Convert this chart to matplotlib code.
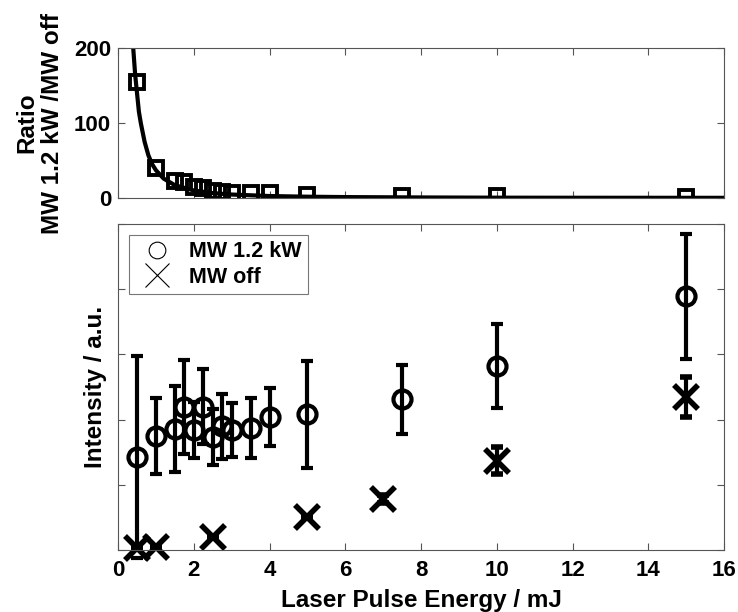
import matplotlib.pyplot as plt
from matplotlib.lines import Line2D

plt.rcParams["font.family"] = ["Liberation Sans", "DejaVu Sans"]
plt.rcParams["font.weight"] = "bold"

# MW 1.2 kW (circles)
on_x = [0.5, 1, 1.5, 1.75, 2, 2.25, 2.5, 2.75, 3, 3.5, 4, 5, 7.5, 10, 15]
on_y = [1.43, 1.75, 1.85, 2.20, 1.84, 2.20, 1.73, 1.90, 1.84, 1.87, 2.04, 2.08, 2.31, 2.82, 3.89]
on_err = [1.55, 0.58, 0.66, 0.72, 0.43, 0.58, 0.43, 0.50, 0.42, 0.46, 0.45, 0.82, 0.53, 0.64, 0.96]

# MW off (crosses)
off_x = [0.5, 1, 2.5, 5, 7, 10, 15]
off_y = [0.03, 0.05, 0.2, 0.51, 0.78, 1.37, 2.35]
off_err = [0, 0, 0, 0, 0.06, 0.21, 0.31]

# ratio MW on / MW off
ratio_x = [0.5, 1, 1.5, 1.75, 2, 2.25, 2.5, 2.75, 3, 3.5, 4, 5, 7.5, 10, 15]
ratio_y = [155, 40, 22, 21, 14, 13, 9, 8, 7, 6, 6, 4, 3, 2, 1.5]

# fitted curve
fit_x = [0.40, 0.45, 0.50, 0.55, 0.60, 0.70, 0.80, 0.90, 1.0, 1.2, 1.5, 2, 2.5, 3, 4, 5, 6, 8, 10, 12, 16]
fit_y = [200, 165, 140, 115, 100, 75, 57, 45, 37, 26, 17, 10, 6.5, 4.6, 2.6, 1.7, 1.2, 0.7, 0.4, 0.3, 0.2]

fig = plt.figure(figsize=(7.38, 6.12), dpi=100)
ax_top = fig.add_axes([0.160, 0.6765, 0.821, 0.245])
ax = fig.add_axes([0.160, 0.1013, 0.821, 0.5327])

spine_col = "#555555"
for a in (ax_top, ax):
    for s in a.spines.values():
        s.set_color(spine_col)
        s.set_linewidth(0.8)
    a.tick_params(direction="in", top=True, right=True, color=spine_col,
                  length=5, labelsize=16, pad=5)
    a.set_xlim(0, 16)
ax.tick_params(axis="x", pad=7)

# top panel
ax_top.plot(fit_x, fit_y, color="black", linewidth=3)
ax_top.plot(ratio_x, ratio_y, linestyle="none", marker="s", markersize=9.5,
            markerfacecolor="none", markeredgecolor="black", markeredgewidth=2.8)
ax_top.set_ylim(0, 200)
ax_top.set_yticks([0, 100, 200])
ax_top.set_xticks(range(0, 17, 2))
ax_top.set_xticklabels([])
ax_top.set_ylabel("Ratio\nMW 1.2 kW /MW off", fontsize=17.5, fontweight="bold",
                  labelpad=7, linespacing=1.15)

# bottom panel
ax.errorbar(on_x, on_y, yerr=on_err, fmt="o", color="black", markersize=13,
            markerfacecolor="none", markeredgewidth=3, elinewidth=3,
            capsize=4.5, capthick=3)
ax.errorbar(off_x, off_y, yerr=off_err, fmt="x", color="black", markersize=17,
            markeredgewidth=4, elinewidth=3, capsize=4.5, capthick=3)
for line in ax.lines:
    line.set_clip_on(False)

ax.set_ylim(0, 5)
ax.set_yticks(range(0, 6))
ax.set_yticklabels([])
ax.set_xticks(range(0, 17, 2))
ax.set_xlabel("Laser Pulse Energy / mJ", fontsize=17.5, fontweight="bold", labelpad=6)
ax.set_ylabel("Intensity / a.u.", fontsize=17.5, fontweight="bold", labelpad=3)

handles = [
    Line2D([], [], linestyle="none", marker="o", markersize=12,
           markerfacecolor="none", markeredgecolor="black", markeredgewidth=0.8),
    Line2D([], [], linestyle="none", marker="x", markersize=17,
           color="black", markeredgewidth=0.8),
]
leg = ax.legend(handles, ["MW 1.2 kW", "MW off"], loc="upper left",
                fontsize=15.5, frameon=True, fancybox=False, borderaxespad=0.5,
                handletextpad=0.5, labelspacing=0.2, borderpad=0.3)
leg.get_frame().set_edgecolor(spine_col)
leg.get_frame().set_linewidth(0.8)
for t in leg.get_texts():
    t.set_fontweight("bold")

fig.savefig("out.png", dpi=100)
